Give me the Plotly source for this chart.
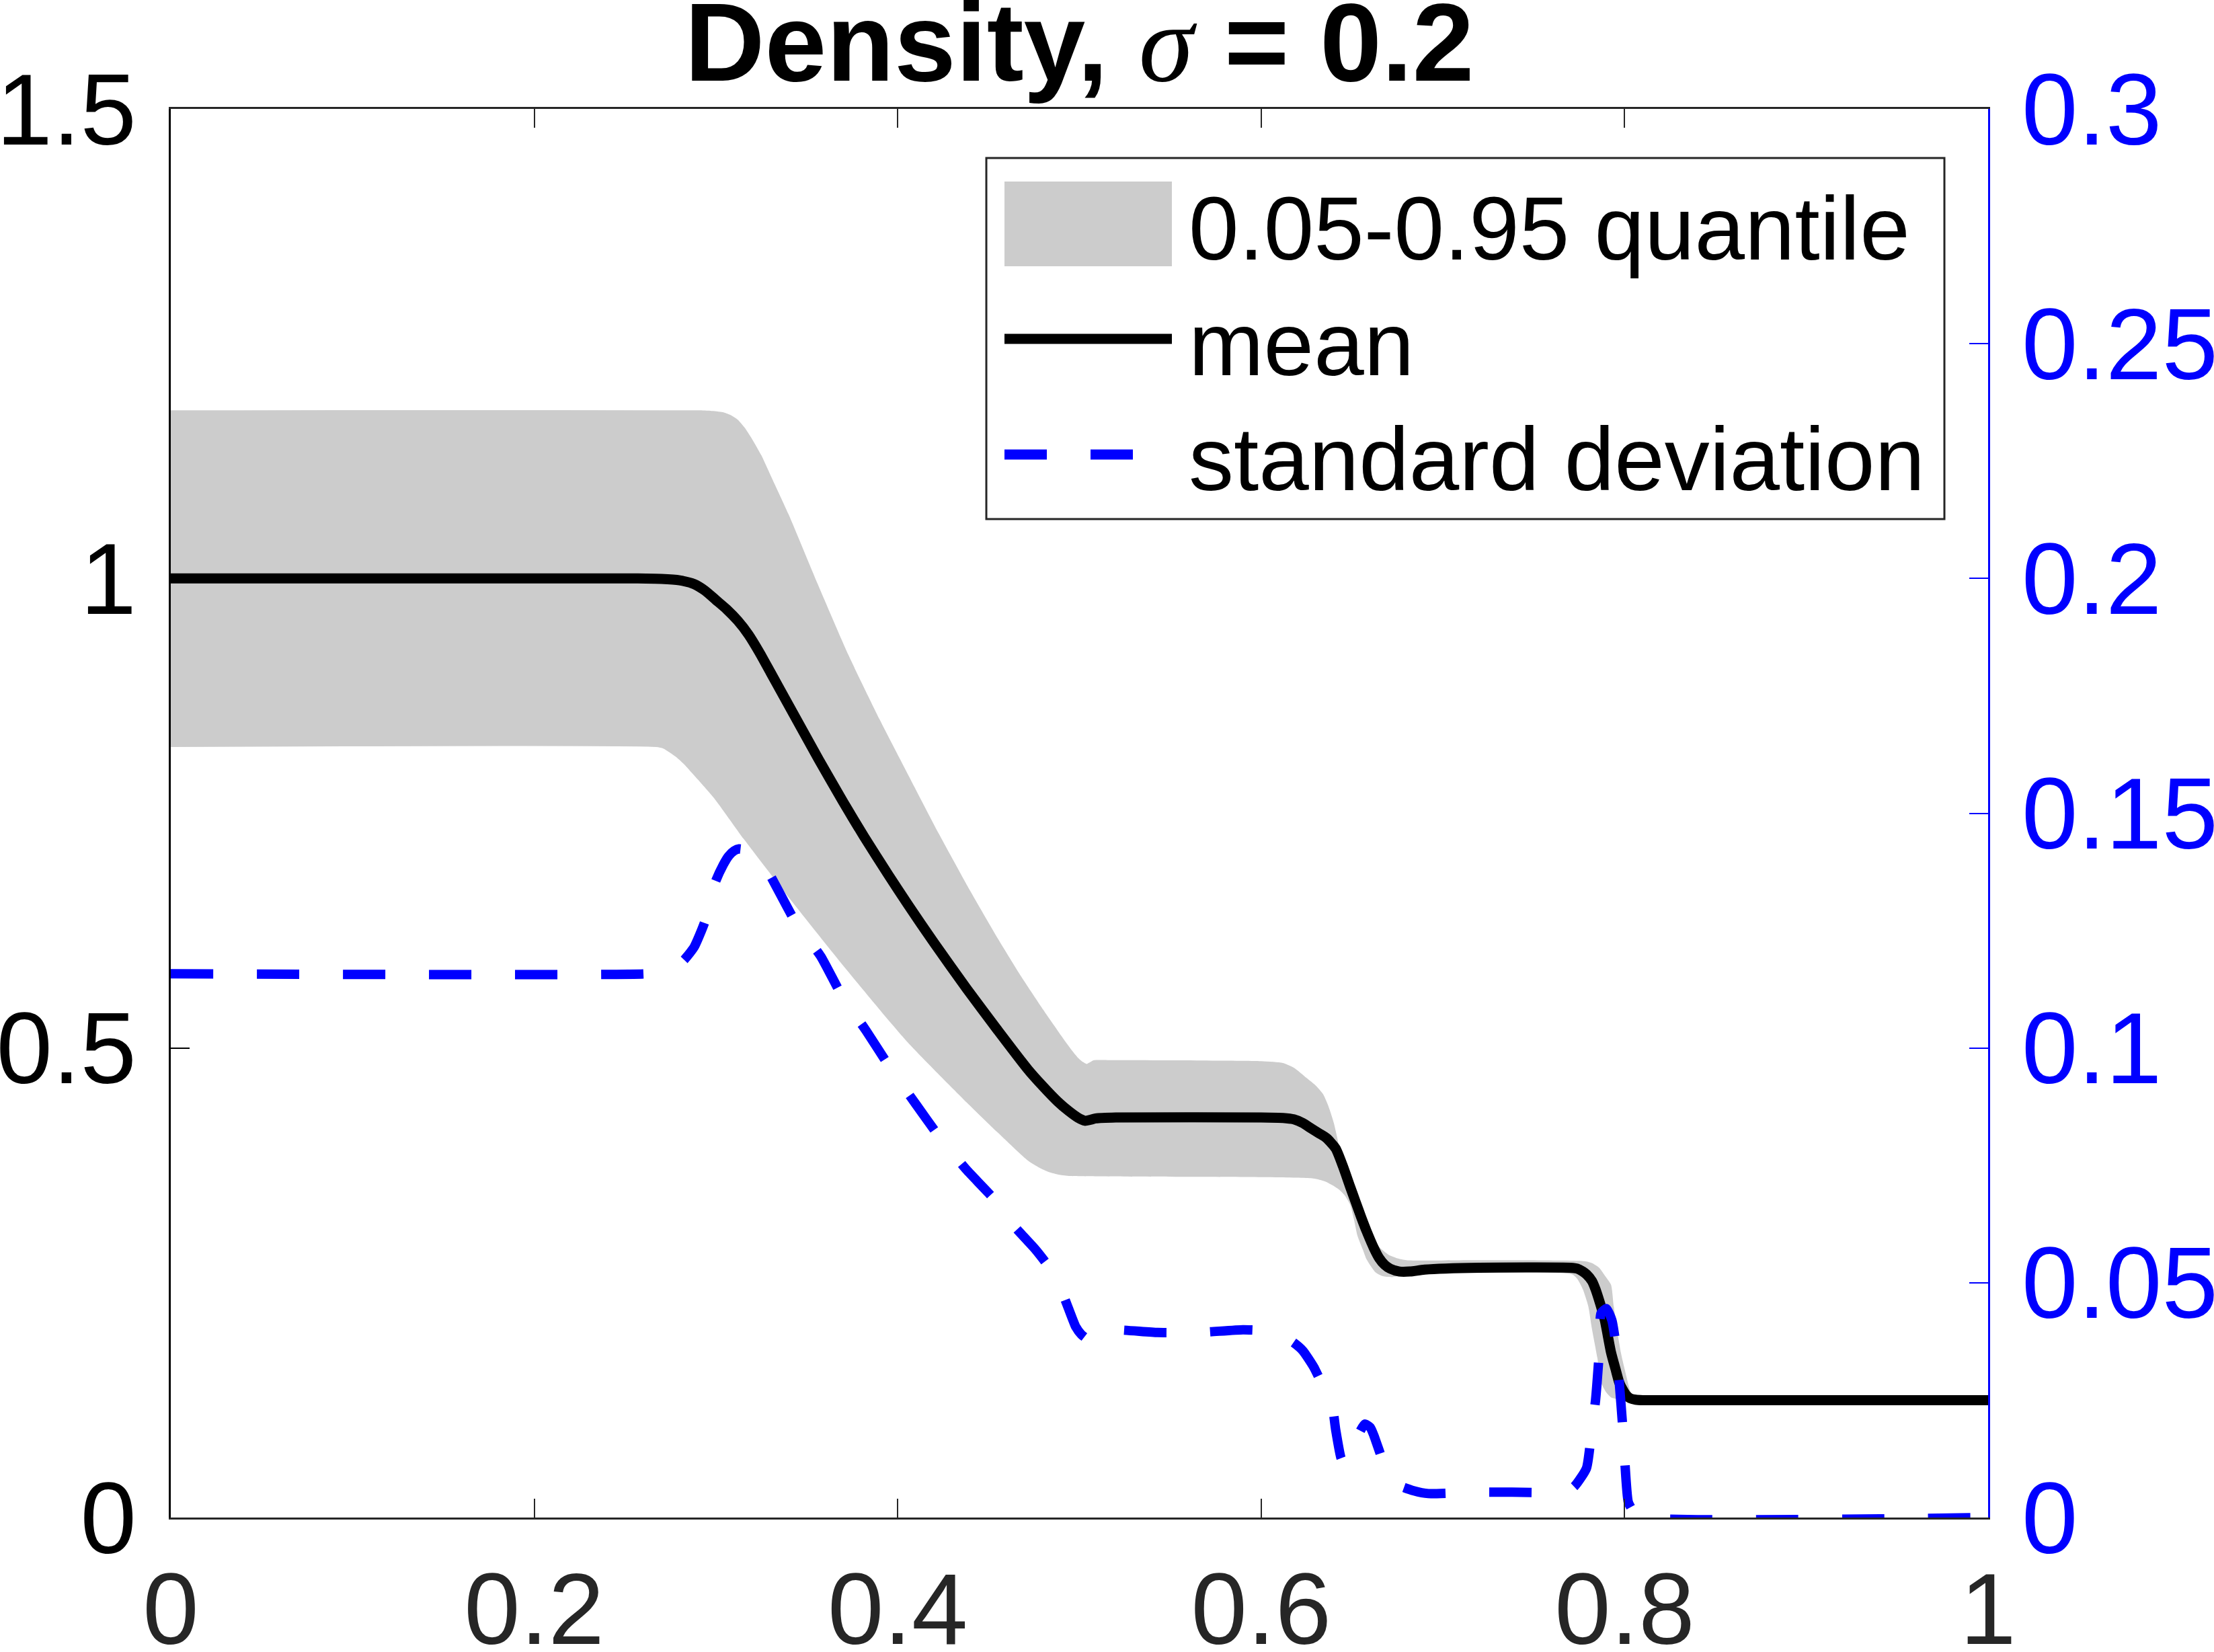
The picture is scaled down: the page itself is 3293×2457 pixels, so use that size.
import plotly.graph_objects as go

# ---------------- data ----------------
mean_x = [0.0, 0.257, 0.27, 0.28, 0.288, 0.294, 0.3, 0.306, 0.312, 0.318, 0.324, 0.33, 0.340,
          0.3566, 0.37, 0.3815, 0.395, 0.4055, 0.42, 0.438, 0.455, 0.4717, 0.48, 0.488, 0.494,
          0.499, 0.503, 0.506, 0.509, 0.52, 0.6, 0.612, 0.618, 0.623, 0.627, 0.632, 0.636, 0.641,
          0.645, 0.649, 0.652, 0.655, 0.658, 0.662, 0.665, 0.668, 0.671, 0.676, 0.682, 0.69,
          0.72, 0.77, 0.774, 0.777, 0.779, 0.782, 0.784, 0.7865, 0.789, 0.7925, 0.795, 0.797,
          0.799, 0.801, 0.803, 0.806, 0.81, 1.0]
mean_y = [1.0, 1.0, 0.9995, 0.998, 0.994, 0.987, 0.977, 0.967, 0.955, 0.94, 0.921, 0.90, 0.865,
          0.807, 0.762, 0.725, 0.684, 0.653, 0.612, 0.563, 0.519, 0.477, 0.459, 0.443, 0.433,
          0.426, 0.4225, 0.4235, 0.425, 0.426, 0.426, 0.4255, 0.424, 0.42, 0.415, 0.409, 0.404,
          0.393, 0.374, 0.352, 0.336, 0.320, 0.305, 0.287, 0.276, 0.269, 0.265, 0.262, 0.262,
          0.264, 0.266, 0.266, 0.265, 0.262, 0.259, 0.252, 0.243, 0.228, 0.211, 0.176, 0.158,
          0.144, 0.136, 0.130, 0.127, 0.1255, 0.125, 0.125]

std_x = [0.0, 0.261, 0.268, 0.275, 0.282, 0.288, 0.2937, 0.2997, 0.304, 0.307, 0.31, 0.3127,
         0.316, 0.32, 0.324, 0.328, 0.3435, 0.3577, 0.3695, 0.3826, 0.3955, 0.4095, 0.4227,
         0.438, 0.4526, 0.460, 0.476, 0.483, 0.489, 0.494, 0.498, 0.501, 0.504, 0.5068, 0.509,
         0.512, 0.5187, 0.543, 0.5654, 0.590, 0.602, 0.609, 0.6135, 0.618, 0.623, 0.629, 0.634,
         0.639, 0.641, 0.644, 0.646, 0.648, 0.651, 0.654, 0.657, 0.66, 0.662, 0.667, 0.671,
         0.676, 0.684, 0.692, 0.716, 0.738, 0.764, 0.772, 0.779, 0.782, 0.784, 0.786, 0.787,
         0.790, 0.793, 0.795, 0.797, 0.799, 0.800, 0.802, 0.805, 0.81, 1.0]
std_y = [0.1158, 0.1158, 0.1162, 0.1172, 0.1186, 0.1215, 0.1267, 0.1354, 0.139, 0.1409, 0.142,
         0.1424, 0.1422, 0.1413, 0.1398, 0.138, 0.127, 0.1195, 0.111, 0.1037, 0.096, 0.0883,
         0.0812, 0.074, 0.068, 0.0638, 0.057, 0.0535, 0.0494, 0.0445, 0.0406, 0.039, 0.0381,
         0.0379, 0.0388, 0.0396, 0.040, 0.0394, 0.0394, 0.040, 0.0398, 0.0393, 0.0383, 0.0372,
         0.0355, 0.032, 0.028, 0.024, 0.0187, 0.0126, 0.0115, 0.012, 0.0141, 0.018, 0.0199,
         0.0192, 0.0175, 0.012, 0.0084, 0.0068, 0.0057, 0.0051, 0.0054, 0.0054, 0.0054, 0.0065,
         0.0105, 0.019, 0.025, 0.035, 0.0435, 0.0445, 0.042, 0.0373, 0.029, 0.019, 0.0126,
         0.0033, 0.0012, 0.0, 0.0]

q_hi_x = [0.0, 0.29, 0.297, 0.3037, 0.308, 0.312, 0.316, 0.320, 0.325, 0.33, 0.340, 0.356,
          0.373, 0.39, 0.406, 0.4227, 0.44, 0.4553, 0.468, 0.48, 0.49, 0.496, 0.499, 0.502,
          0.504, 0.506, 0.508, 0.52, 0.6, 0.612, 0.618, 0.625, 0.63, 0.634, 0.637, 0.640, 0.645,
          0.65, 0.655, 0.66, 0.665, 0.67, 0.675, 0.68, 0.72, 0.778, 0.782, 0.786, 0.789, 0.7925,
          0.794, 0.796, 0.798, 0.801, 0.803, 0.805, 0.81, 1.0]
q_hi_y = [1.179, 1.179, 1.1785, 1.177, 1.174, 1.169, 1.16, 1.148, 1.131, 1.11, 1.068, 0.994,
          0.918, 0.850, 0.790, 0.728, 0.667, 0.616, 0.576, 0.541, 0.513, 0.497, 0.490, 0.485,
          0.483, 0.485, 0.487, 0.487, 0.486, 0.484, 0.479, 0.468, 0.46, 0.451, 0.438, 0.420,
          0.378, 0.35, 0.326, 0.303, 0.288, 0.28, 0.276, 0.274, 0.274, 0.273, 0.271, 0.266,
          0.258, 0.248, 0.225, 0.198, 0.175, 0.150, 0.135, 0.128, 0.125, 0.125]

q_lo_x = [0.0, 0.267, 0.271, 0.2743, 0.278, 0.282, 0.29, 0.299, 0.3155, 0.341, 0.372, 0.4055,
          0.438, 0.455, 0.4717, 0.478, 0.483, 0.489, 0.495, 0.6286, 0.635, 0.64, 0.643, 0.646,
          0.649, 0.651, 0.653, 0.656, 0.658, 0.663, 0.667, 0.672, 0.68, 0.771, 0.774, 0.777,
          0.78, 0.782, 0.785, 0.787, 0.79, 0.7925, 0.796, 0.8, 1.0]
q_lo_y = [0.8205, 0.8205, 0.819, 0.815, 0.81, 0.803, 0.786, 0.766, 0.722, 0.658, 0.583, 0.506,
          0.442, 0.410, 0.380, 0.3725, 0.368, 0.365, 0.3637, 0.361, 0.358, 0.353, 0.349, 0.343,
          0.333, 0.318, 0.30, 0.285, 0.275, 0.261, 0.257, 0.256, 0.259, 0.259, 0.254, 0.243,
          0.225, 0.201, 0.17, 0.144, 0.133, 0.128, 0.126, 0.125, 0.125]

x_ticks = [0, 0.2, 0.4, 0.6, 0.8, 1]
x_ticktext = ["0", "0.2", "0.4", "0.6", "0.8", "1"]
yl_ticks = [0, 0.5, 1, 1.5]
yl_ticktext = ["0", "0.5", "1", "1.5"]
yr_ticks = [0, 0.05, 0.1, 0.15, 0.2, 0.25, 0.3]
yr_ticktext = ["0", "0.05", "0.1", "0.15", "0.2", "0.25", "0.3"]

legend_labels = ["0.05-0.95 quantile", "mean", "standard deviation"]

# ---------------- styling ----------------
FONT = "Liberation Sans, Arial, Helvetica, sans-serif"
AX = "#262626"
GRAY = "#cccccc"
BLUE = "#0000ff"
W, H = 3293, 2457
ML, MR, MT, MB = 254, 336, 162, 200

fig = go.Figure()

# quantile band as a closed polygon
fig.add_trace(go.Scatter(
    x=q_hi_x + q_lo_x[::-1], y=q_hi_y + q_lo_y[::-1],
    fill="toself", fillcolor=GRAY, mode="lines",
    line=dict(width=0, color=GRAY, shape="spline", smoothing=0.6),
    name=legend_labels[0], showlegend=False, hoverinfo="skip"))

fig.add_trace(go.Scatter(
    x=mean_x, y=mean_y, mode="lines",
    line=dict(color="black", width=15, shape="spline", smoothing=0.6),
    name=legend_labels[1], showlegend=False))

fig.add_trace(go.Scatter(
    x=std_x, y=std_y, mode="lines", yaxis="y2",
    line=dict(color=BLUE, width=14, dash="63px,65px", shape="spline", smoothing=0.5),
    name=legend_labels[2], showlegend=False))

fig.update_layout(
    width=W, height=H,
    margin=dict(l=ML, r=MR, t=MT, b=MB, pad=0, autoexpand=False),
    paper_bgcolor="white", plot_bgcolor="white",
    showlegend=False,
    title=dict(
        text="<b>Density, </b><span style='font-family:Liberation Serif, Times New Roman, serif'><i>σ</i></span><b> = 0.2</b>",
        x=0.5 * (ML + (W - MR)) / W, xanchor="center",
        y=1 - 62 / H, yanchor="middle", yref="container", automargin=False,
        font=dict(family=FONT, size=165, color="black")),
    xaxis=dict(
        range=[0, 1], tickmode="array", tickvals=x_ticks, ticktext=x_ticktext,
        ticks="inside", ticklen=28, tickwidth=2, tickcolor=AX,
        showline=True, linecolor=AX, linewidth=3, mirror="ticks",
        showgrid=False, zeroline=False, automargin=False,
        tickfont=dict(family=FONT, size=150, color=AX), ticklabelstandoff=5),
    yaxis=dict(
        range=[0, 1.5], tickmode="array", tickvals=yl_ticks, ticktext=yl_ticktext,
        ticks="inside", ticklen=28, tickwidth=2, tickcolor="black",
        showline=True, linecolor="black", linewidth=3,
        showgrid=False, zeroline=False, automargin=False,
        tickfont=dict(family=FONT, size=150, color="black"), ticklabelstandoff=18),
    yaxis2=dict(
        range=[0, 0.3], tickmode="array", tickvals=yr_ticks, ticktext=yr_ticktext,
        overlaying="y", side="right",
        ticks="inside", ticklen=28, tickwidth=2, tickcolor=BLUE,
        showline=True, linecolor=BLUE, linewidth=3,
        showgrid=False, zeroline=False, automargin=False,
        tickfont=dict(family=FONT, size=150, color=BLUE), ticklabelstandoff=17),
)

# ---------------- legend box (MATLAB style) ----------------
pw, ph = W - ML - MR, H - MT - MB
def px(xp):
    return (xp - ML) / pw
def py(yp):
    return (H - MB - yp) / ph

fig.add_shape(type="rect", xref="paper", yref="paper",
              x0=px(1467), x1=px(2892), y0=py(772), y1=py(235),
              line=dict(color=AX, width=3), fillcolor="white", layer="above")
fig.add_shape(type="rect", xref="paper", yref="paper",
              x0=px(1494), x1=px(1743), y0=py(396), y1=py(270),
              line=dict(width=0), fillcolor=GRAY, layer="above")
fig.add_shape(type="line", xref="paper", yref="paper",
              x0=px(1494), x1=px(1743), y0=py(504), y1=py(504),
              line=dict(color="black", width=15), layer="above")
fig.add_shape(type="line", xref="paper", yref="paper",
              x0=px(1494), x1=px(1743), y0=py(676), y1=py(676),
              line=dict(color=BLUE, width=15, dash="63px,65px"), layer="above")
for lab, yc in zip(legend_labels, [339, 511, 682]):
    fig.add_annotation(text=lab, xref="paper", yref="paper", x=px(1766), y=py(yc),
                       xanchor="left", yanchor="middle", showarrow=False,
                       font=dict(family=FONT, size=134, color="black"))

fig.write_html("out.html", post_script="document.body.style.margin='0';",
               config={"displayModeBar": False})
